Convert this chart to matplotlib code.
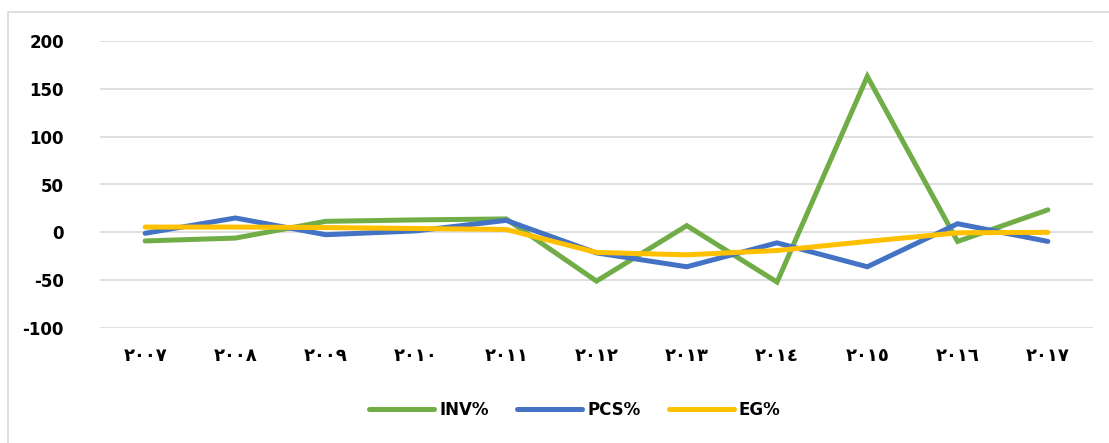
import matplotlib.pyplot as plt
from matplotlib.patches import Rectangle

# years written with Arabic-Indic digits, as on the original chart
years = ['٢٠٠٧', '٢٠٠٨', '٢٠٠٩', '٢٠١٠', '٢٠١١', '٢٠١٢',
         '٢٠١٣', '٢٠١٤', '٢٠١٥', '٢٠١٦', '٢٠١٧']

inv = [-9, -6, 11.5, 13, 14, -51, 7, -52, 163, -9.5, 23.5]
pcs = [-1, 15, -2.5, 1.5, 12.5, -21.5, -36, -11, -36, 9, -9.5]
eg = [5.5, 5.5, 5, 4, 3, -21, -23.5, -19, -9.5, -0.5, 0]

y_ticks = [-100, -50, 0, 50, 100, 150, 200]

plt.rcParams['axes.unicode_minus'] = False

fig = plt.figure(figsize=(11.09, 4.43), dpi=100)

# light frame around the chart area
fig.patches.append(Rectangle((8 / 1109, -0.1), 1.2, 1 - 12 / 443 + 0.1,
                             transform=fig.transFigure, fill=False,
                             edgecolor='#D9D9D9', linewidth=1.2))

ax = fig.add_axes([100 / 1109, 1 - 328 / 443, 993 / 1109, 287 / 443])

x = range(len(years))
ax.plot(x, inv, color='#70AD47', lw=3.6, label='INV%', solid_capstyle='round', solid_joinstyle='miter')
ax.plot(x, pcs, color='#4472C4', lw=3.6, label='PCS%', solid_capstyle='round', solid_joinstyle='miter')
ax.plot(x, eg, color='#FFC000', lw=3.6, label='EG%', solid_capstyle='round', solid_joinstyle='miter')

ax.set_xlim(-0.5, len(years) - 0.5)
ax.set_ylim(-100, 200)
ax.set_yticks(y_ticks)
ax.set_xticks(list(x))
ax.set_xticklabels(years, fontsize=13, fontweight='bold', family='DejaVu Sans')
ax.tick_params(axis='x', length=0, pad=14)
ax.tick_params(axis='y', length=0, pad=26, labelsize=12)
for t in ax.get_yticklabels():
    t.set_fontweight('bold')

ax.grid(axis='y', color='#D9D9D9', lw=1.2)
ax.set_axisbelow(True)
for s in ax.spines.values():
    s.set_visible(False)

leg = fig.legend(loc='center', bbox_to_anchor=(575 / 1109, 1 - 410 / 443), ncol=3,
                 frameon=False, handlelength=3.9, handletextpad=0.3, columnspacing=1.7,
                 prop={'weight': 'bold', 'size': 12})

fig.savefig('out.png', dpi=100)
